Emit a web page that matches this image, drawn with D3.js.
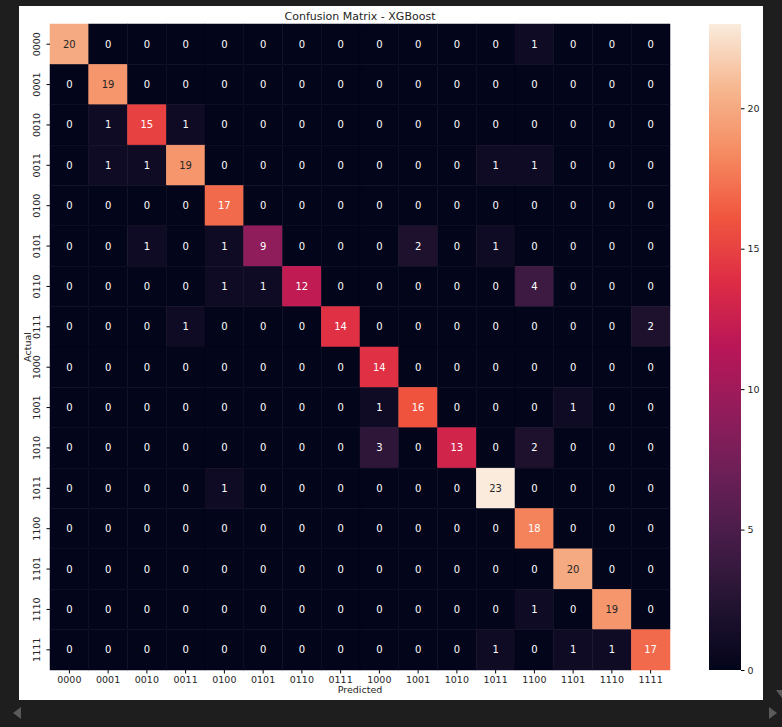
<!DOCTYPE html>
<html><head><meta charset="utf-8">
<script src="https://cdn.jsdelivr.net/npm/d3@7"></script>
<style>body{margin:0;background:#1e1e1e}svg{display:block}</style>
</head><body>
<svg id="c" width="782" height="727"></svg>
<script>
// labels and values
let labels = ["0000","0001","0010","0011","0100","0101","0110","0111","1000","1001","1010","1011","1100","1101","1110","1111"]
let matrix = [
	[20,0,0,0,0,0,0,0,0,0,0,0,1,0,0,0],
	[0,19,0,0,0,0,0,0,0,0,0,0,0,0,0,0],
	[0,1,15,1,0,0,0,0,0,0,0,0,0,0,0,0],
	[0,1,1,19,0,0,0,0,0,0,0,1,1,0,0,0],
	[0,0,0,0,17,0,0,0,0,0,0,0,0,0,0,0],
	[0,0,1,0,1,9,0,0,0,2,0,1,0,0,0,0],
	[0,0,0,0,1,1,12,0,0,0,0,0,4,0,0,0],
	[0,0,0,1,0,0,0,14,0,0,0,0,0,0,0,2],
	[0,0,0,0,0,0,0,0,14,0,0,0,0,0,0,0],
	[0,0,0,0,0,0,0,0,1,16,0,0,0,1,0,0],
	[0,0,0,0,0,0,0,0,3,0,13,0,2,0,0,0],
	[0,0,0,0,1,0,0,0,0,0,0,23,0,0,0,0],
	[0,0,0,0,0,0,0,0,0,0,0,0,18,0,0,0],
	[0,0,0,0,0,0,0,0,0,0,0,0,0,20,0,0],
	[0,0,0,0,0,0,0,0,0,0,0,0,1,0,19,0],
	[0,0,0,0,0,0,0,0,0,0,0,1,0,1,1,17]
]
let cbarTicks = [0,5,10,15,20]

// rough rocket colormap
let rocketStops = ["#03051a","#221331","#451c47","#6a1f56","#921c5b","#b91657","#dd2c45","#f0553e","#f58b61","#f6b78f","#faebdd"]
let rocket = d3.scaleLinear().domain(d3.range(rocketStops.length).map(i => i/(rocketStops.length-1))).range(rocketStops).interpolate(d3.interpolateRgb)
let vmax = d3.max(matrix.flat())
let color = v => rocket(v / vmax)

let svg = d3.select("#c")
svg.append("rect").attr("x",19).attr("y",6).attr("width",744).attr("height",694).attr("fill","#fff")

let x = d3.scaleBand().domain(labels).range([50,670])
let y = d3.scaleBand().domain(labels).range([24,670])

let cells = []
matrix.forEach((row,i) => row.forEach((v,j) => cells.push({r:labels[i], c:labels[j], v:v})))

function lum(c) {
	let rgb = d3.rgb(c)
	let f = u => { u/=255; return u <= 0.03928 ? u/12.92 : Math.pow((u+0.055)/1.055,2.4) }
	return 0.2126*f(rgb.r)+0.7152*f(rgb.g)+0.0722*f(rgb.b)
}

let g = svg.append("g")
g.selectAll("rect").data(cells).enter().append("rect")
	.attr("x", d => x(d.c)).attr("y", d => y(d.r))
	.attr("width", x.bandwidth()).attr("height", y.bandwidth())
	.attr("fill", d => color(d.v))
	.attr("stroke", d => color(d.v)).attr("stroke-width", 0.5)
g.selectAll("text").data(cells).enter().append("text")
	.attr("x", d => x(d.c) + x.bandwidth()/2).attr("y", d => y(d.r) + y.bandwidth()/2)
	.attr("dy","0.35em").attr("text-anchor","middle")
	.attr("font-family","DejaVu Sans").attr("font-size",10)
	.attr("fill", d => lum(color(d.v)) > 0.408 ? "#262626" : "#fff")
	.text(d => d.v)

let fontStyle = s => s.selectAll("text").attr("font-family","DejaVu Sans").attr("font-size",9.5).attr("fill","#262626")
let xAxis = svg.append("g").attr("transform","translate(0,670)")
	.call(d3.axisBottom(x).tickSize(3.5).tickPadding(3))
xAxis.select(".domain").remove()
xAxis.call(fontStyle)
let yAxis = svg.append("g").attr("transform","translate(50,0)")
	.call(d3.axisLeft(y).tickSize(3.5).tickPadding(3))
yAxis.select(".domain").remove()
yAxis.call(fontStyle)
yAxis.selectAll("text").attr("text-anchor","middle").attr("dy",0)
	.attr("transform", function() { return "translate(" + (-13) + "," + d3.select(this.parentNode).attr("transform").match(/,([\d.]+)/)[1]*0 + ") rotate(-90)" })
	.attr("x",0).attr("y",0)
yAxis.selectAll(".tick").each(function() {
	d3.select(this).select("text").attr("transform","translate(-13,0) rotate(-90)").attr("dy","0.35em")
})

svg.append("text").attr("x",360).attr("y",20).attr("text-anchor","middle")
	.attr("font-family","DejaVu Sans").attr("font-size",11).attr("fill","#262626")
	.text("Confusion Matrix - XGBoost")
svg.append("text").attr("x",360).attr("y",693).attr("text-anchor","middle")
	.attr("font-family","DejaVu Sans").attr("font-size",9.5).attr("fill","#262626").text("Predicted")
svg.append("text").attr("transform","translate(31,347) rotate(-90)").attr("text-anchor","middle")
	.attr("font-family","DejaVu Sans").attr("font-size",9.5).attr("fill","#262626").text("Actual")

// colorbar
let cy = d3.scaleLinear().domain([0,vmax]).range([670,24])
let defs = svg.append("defs")
let grad = defs.append("linearGradient").attr("id","gr").attr("x1",0).attr("y1",1).attr("x2",0).attr("y2",0)
grad.selectAll("stop").data(d3.range(0,1.0001,0.05)).enter().append("stop")
	.attr("offset", d => d).attr("stop-color", d => rocket(d))
svg.append("rect").attr("x",709).attr("y",24).attr("width",32).attr("height",646).attr("fill","url(#gr)")
let cAxis = svg.append("g").attr("transform","translate(741,0)")
	.call(d3.axisRight(cy).tickValues(cbarTicks).tickSize(3.5).tickPadding(3))
cAxis.select(".domain").remove()
cAxis.call(fontStyle)

// scroll arrows of the notebook frame
svg.append("path").attr("d","M13,713 L21,707 L21,719 Z").attr("fill","#5a5a5a")
svg.append("path").attr("d","M769,707 L769,719 L777,713 Z").attr("fill","#5a5a5a")
svg.append("path").attr("d","M776,690 L782,690 L782,698 Z").attr("fill","#5a5a5a")
</script>
</body></html>
